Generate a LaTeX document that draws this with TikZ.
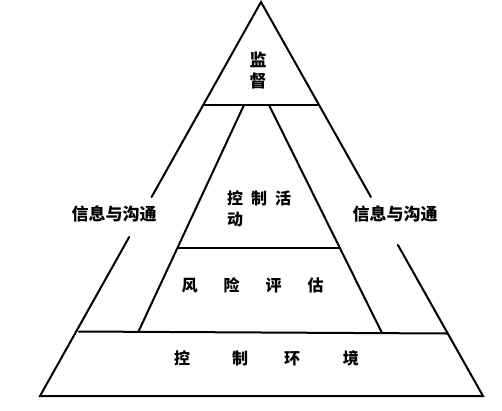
\documentclass[tikz,border=0pt]{standalone}
\usepackage{fontspec}
\setmainfont{Noto Sans CJK SC}
\begin{document}
\begin{tikzpicture}[x=1pt,y=-1pt,
  edge/.style={line width=2pt,line cap=round},
  lbl/.style={font=\bfseries\fontsize{16}{21}\selectfont,inner sep=0pt,align=center},
  big/.style={font=\bfseries\fontsize{17}{21}\selectfont}]
\useasboundingbox (0,0) rectangle (502,410);
% outer triangle corners
\coordinate (apex) at (261,2);
\coordinate (bl) at (40,396);
\coordinate (br) at (483,396);
% breaks of the outer edges
\coordinate (l1) at (151.6,197);
\coordinate (l2) at (129.2,237);
\coordinate (r1) at (370.9,197);
\coordinate (r2) at (397.9,245);
% monitoring line
\coordinate (m1) at (203.5,105);
\coordinate (m2) at (318.5,105);
% inner lines
\coordinate (i1) at (244,105);
\coordinate (i2) at (269,105);
\coordinate (i3) at (138.5,331.5);
\coordinate (i4) at (382,333);
% control activities bottom
\coordinate (c1) at (177.5,248);
\coordinate (c2) at (340,248);
% environment top
\coordinate (e1) at (79,331.5);
\coordinate (e2) at (447,333.5);

\draw[edge] (l1) -- (apex) -- (r1);
\draw[edge] (l2) -- (bl) -- (br) -- (r2);
\draw[edge] (m1) -- (m2);
\draw[edge] (i1) -- (i3);
\draw[edge] (i2) -- (i4);
\draw[edge] (c1) -- (c2);
\draw[edge] (e1) -- (e2);

\node[lbl,big] (jd) at (258,70.5) {监\\督};
\node[lbl,align=left,anchor=north west] (kzhd) at (227,190.5) {控\hspace{8pt}制\hspace{8pt}活\\动};
\node[lbl,big] (xxl) at (114,214) {信息与沟通};
\node[lbl,big] (xxr) at (395,214) {信息与沟通};
\node[lbl] (fxpg) at (252.5,285) {风\hspace{26pt}险\hspace{26pt}评\hspace{26pt}估};
\node[lbl] (kzhj) at (266.5,358) {控\hspace{42pt}制\hspace{36pt}环\hspace{43pt}境};
\end{tikzpicture}
\end{document}
